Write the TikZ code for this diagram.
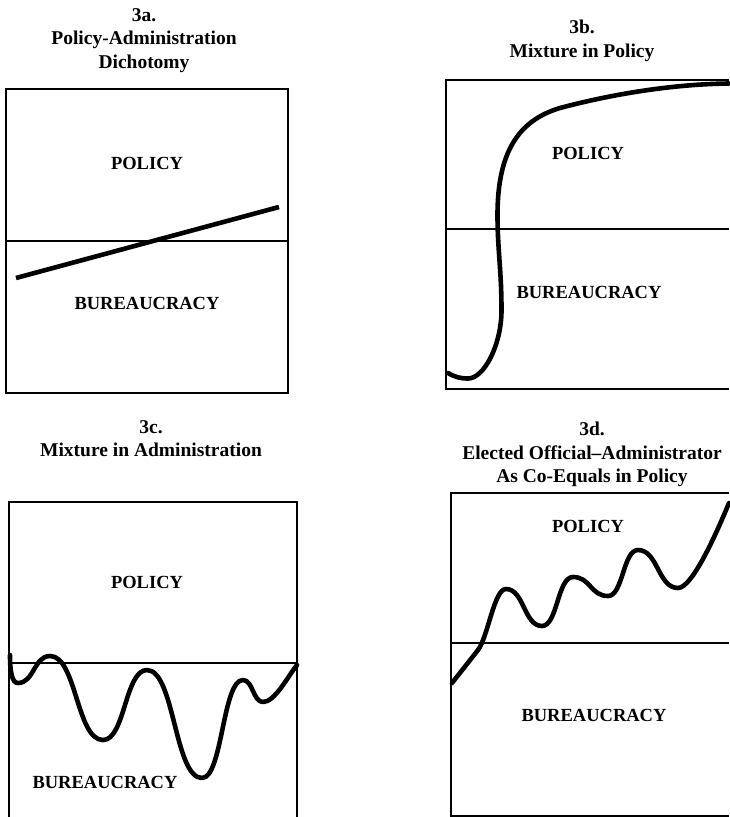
\documentclass[tikz,border=0pt]{standalone}
\usepackage{fontspec}
\setmainfont{Liberation Serif}
\usetikzlibrary{positioning}

\begin{document}
\begin{tikzpicture}[x=1pt,y=-1pt,
    title/.style={font=\bfseries\fontsize{19.5}{23.5}\selectfont,align=center,anchor=north,inner sep=0pt},
    lbl/.style={font=\bfseries\fontsize{18.5}{23.5}\selectfont,inner sep=0pt},
    frame/.style={line width=1.6pt},
    divider/.style={line width=1.2pt},
    curve/.style={line width=4.6pt,line cap=round,line join=round}]
\useasboundingbox (0,0) rectangle (729,817);

% 3a: dichotomy
\node [title] (t3a) at (144,8) {3a.\\Policy-Administration\\Dichotomy};
\draw [frame] (6,89) rectangle (288,393);
\draw [divider] (6,241) -- (288,241);
\node [lbl] (p3a) at (147,163) {POLICY};
\node [lbl] (b3a) at (147,303) {BUREAUCRACY};
\draw [curve,line cap=butt] (16,278) -- (279,207);

% 3b: mixture in policy
\node [title] (t3b) at (582,20) {3b.\\Mixture in Policy};
\draw [frame] (729,80) -- (446,80) -- (446,389) -- (729,389);
\draw [divider] (446,229) -- (729,229);
\node [lbl] (p3b) at (588,153) {POLICY};
\node [lbl] (b3b) at (589,292) {BUREAUCRACY};
\draw [curve] (448,373) .. controls (455,377) and (460,378.5) .. (468,378.5)
    .. controls (484,378.5) and (501.5,345) .. (501.5,310)
    .. controls (501.5,270) and (497.5,250) .. (497.5,215)
    .. controls (497.5,150) and (520,120) .. (560,108)
    .. controls (620,92) and (680,84) .. (729,83.5);

% 3c: mixture in administration
\node [title] (t3c) at (151,420) {3c.\\Mixture in Administration};
\draw [frame] (9,817) -- (9,502) -- (297,502) -- (297,817);
\draw [divider] (9,663) -- (297,663);
\node [lbl] (p3c) at (147,582) {POLICY};
\node [lbl] (b3c) at (105,782) {BUREAUCRACY};
\draw [curve] (10,655) .. controls (10,672) and (12,683) .. (18,683)
    .. controls (34,683) and (34,656) .. (50,656)
    .. controls (76.5,656) and (76.5,740) .. (103,740)
    .. controls (125,740) and (125,670) .. (147,670)
    .. controls (174.5,670) and (174.5,778) .. (202,778)
    .. controls (222.5,778) and (222.5,680) .. (243,680)
    .. controls (253,680) and (253,702) .. (263,702)
    .. controls (275,702) and (288,676) .. (297,665);

% 3d: co-equals in policy
\node [title] (t3d) at (592,422) {3d.\\Elected Official--Administrator\\As Co-Equals in Policy};
\draw [frame] (729,493) -- (451,493) -- (451,816) -- (729,816);
\draw [divider] (451,643) -- (729,643);
\node [lbl] (p3d) at (588,526) {POLICY};
\node [lbl] (b3d) at (594,715) {BUREAUCRACY};
\draw [curve] (452,683) -- (478,650)
    .. controls (488,637) and (494,589) .. (506,589)
    .. controls (524,589) and (524,626) .. (542,626)
    .. controls (557.5,626) and (557.5,577) .. (573,577)
    .. controls (590.5,577) and (590.5,596) .. (608,596)
    .. controls (623,596) and (623,550) .. (638,550)
    .. controls (658,550) and (658,588) .. (678,588)
    .. controls (693,588) and (719,527) .. (729,503);
\end{tikzpicture}
\end{document}
